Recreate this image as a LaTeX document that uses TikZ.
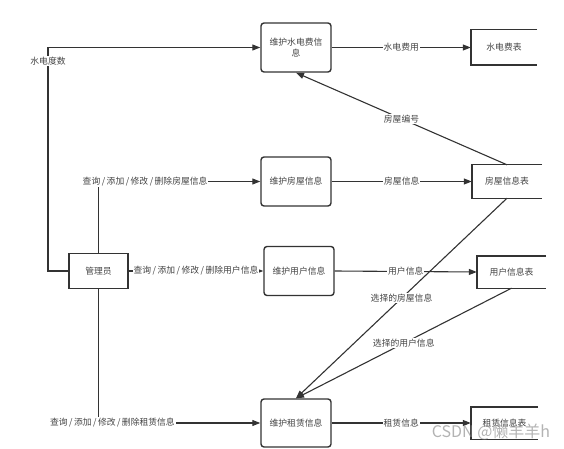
\documentclass[tikz,border=0pt]{standalone}
\usepackage{fontspec}
\setmainfont{Noto Sans CJK SC}
\usetikzlibrary{arrows.meta}
\definecolor{linegray}{HTML}{333333}
\definecolor{textgray}{HTML}{444444}
\newcommand{\slashsep}{\,/\,}
\tikzset{
  txt/.style={text=textgray, font=\fontsize{8.8}{11}\selectfont},
  proc/.style={txt, draw=linegray, line width=1.4pt, rounded corners=3pt,
    minimum width=70pt, minimum height=49pt, align=center, inner sep=2pt},
  entity/.style={txt, draw=linegray, line width=1.4pt,
    minimum width=59pt, minimum height=35pt},
  store/.style={txt, minimum height=33pt},
  flow/.style={draw=linegray, line width=1.1pt, -{Triangle[length=8pt,width=6pt]}},
  lbl/.style={txt, fill=white, inner sep=1pt}
}
\begin{document}
\begin{tikzpicture}[x=1pt, y=-1pt]
  \useasboundingbox (0,0) rectangle (564,449);
  % processes
  \node[proc] (wh) at (296,47.5) {维护水电费信\\息};
  \node[proc] (houseP) at (296,181.5) {维护房屋信息};
  \node[proc] (userP) at (299,271) {维护用户信息};
  \node[proc, minimum height=48pt] (rentP) at (296,423) {维护租赁信息};
  \node[entity] (admin) at (98.5,271) {管理员};
  % data stores
  \node[store, minimum width=66pt, minimum height=35pt] (feeT) at (504,47.5) {水电费表};
  \node[store, minimum width=70pt] (houseT) at (507,181.5) {房屋信息表};
  \node[store, minimum width=69pt, minimum height=32pt] (userT) at (511.5,272) {用户信息表};
  \node[store, minimum width=67pt, minimum height=32pt] (rentT) at (504.5,423) {租赁信息表};
  \foreach \t in {feeT,houseT,userT,rentT}
    \draw[linegray, line width=1.4pt] (\t.north east) -- (\t.north west)
      -- (\t.south west) -- (\t.south east);
  % flows
  \coordinate (bend) at (48,271);
  \draw[flow] (admin.west) -- (bend) |- node[lbl, pos=0.47] {水电度数} (wh.west);
  \draw[flow] (admin.north) |- node[lbl, pos=0.644] {查询\slashsep 添加\slashsep 修改\slashsep 删除房屋信息} (houseP.west);
  \draw[flow] (admin.east) -- node[lbl] {查询\slashsep 添加\slashsep 修改\slashsep 删除用户信息} (userP.west);
  \draw[flow] (admin.south) |- node[lbl, pos=0.543] {查询\slashsep 添加\slashsep 修改\slashsep 删除租赁信息} (rentP.west);
  \draw[flow] (wh.east) -- node[lbl] {水电费用} (feeT.west);
  \draw[flow] (houseP.east) -- node[lbl] {房屋信息} (houseT.west);
  \draw[flow] (userP.east) -- node[lbl] {用户信息} (userT.west);
  \draw[flow] (rentP.east) -- node[lbl] {租赁信息} (rentT.west);
  \draw[flow] (houseT.north) -- node[lbl] {房屋编号} (wh.south);
  \draw[flow] (houseT.south) -- node[lbl] {选择的房屋信息} (rentP.north);
  \draw[flow] (userT.south) -- node[lbl] {选择的用户信息} (rentP.north);
  % watermark
  \node[text=gray, opacity=0.6, font=\fontsize{16}{16}\selectfont] (wm) at (491,432) {CSDN @懒羊羊h};
\end{tikzpicture}
\end{document}
